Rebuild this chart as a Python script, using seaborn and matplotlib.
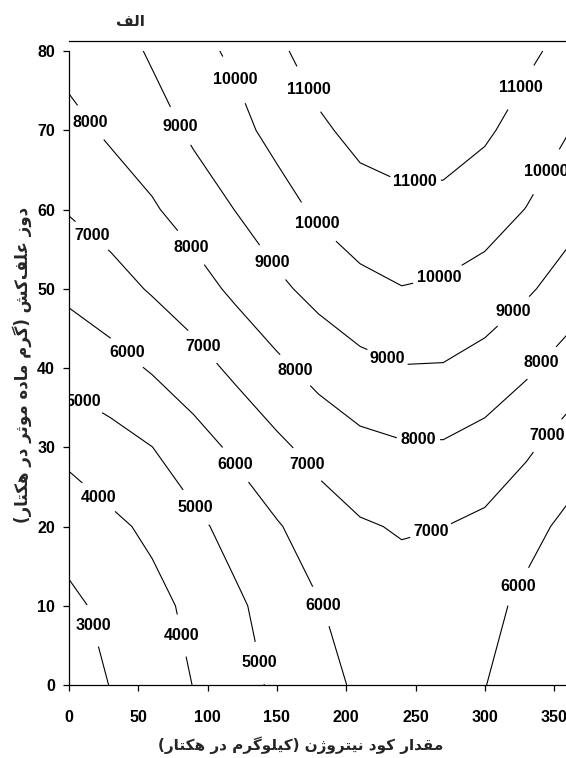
import numpy as np
import matplotlib
matplotlib.use("Agg")
import matplotlib.pyplot as plt
import seaborn as sns
from matplotlib import font_manager

# grid: nitrogen (kg/ha) x herbicide dose (g a.i./ha)
nitrogen = [0, 30, 60, 90, 120, 150, 180, 210, 240, 270, 300, 330, 360]
dose = [0, 10, 20, 30, 40, 50, 60, 70, 80]

yield_d0 = [2400, 3030, 3525, 4020, 4608, 5172, 5690, 6147, 6338, 6295, 6018, 5600, 5100]
yield_d10 = [2800, 3246, 3720, 4220, 4830, 5400, 5950, 6420, 6600, 6570, 6300, 5760, 5400]
yield_d20 = [3400, 3800, 4190, 4780, 5340, 5920, 6480, 6900, 7080, 7010, 6800, 6320, 5770]
yield_d30 = [4262, 4630, 4992, 5584, 6186, 6798, 7333, 7736, 7894, 7901, 7630, 7150, 6554]
yield_d40 = [5333, 5625, 6093, 6596, 7216, 7788, 8327, 8724, 8956, 8937, 8625, 8152, 7556]
yield_d50 = [6212, 6621, 7096, 7593, 8198, 8798, 9312, 9737, 9970, 9862, 9610, 9134, 8583]
yield_d60 = [7070, 7439, 7896, 8427, 9019, 9615, 10164, 10569, 10776, 10752, 10437, 9975, 9375]
yield_d70 = [7707, 8158, 8530, 9190, 9720, 10283, 10822, 11300, 11420, 11420, 11144, 10606, 10033]
yield_d80 = [8344, 8484, 9140, 9750, 10150, 10800, 11480, 11700, 11800, 11800, 11620, 11200, 10690]

levels = [3000, 4000, 5000, 6000, 7000, 8000, 9000, 10000, 11000]

title_text = "الف"
xlabel_text = "مقدار کود نیتروژن (کیلوگرم در هکتار)"
ylabel_text = "دوز علف\u200cکش (گرم ماده موثر در هکتار)"

# matplotlib does no arabic shaping, so use presentation forms in visual order
FORMS = {
    'ا': ('\uFE8D', '\uFE8E'),
    'د': ('\uFEA9', '\uFEAA'),
    'ر': ('\uFEAD', '\uFEAE'),
    'ز': ('\uFEAF', '\uFEB0'),
    'ژ': ('\uFB8A', '\uFB8B'),
    'و': ('\uFEED', '\uFEEE'),
    'ل': ('\uFEDD', '\uFEDE', '\uFEDF', '\uFEE0'),
    'ف': ('\uFED1', '\uFED2', '\uFED3', '\uFED4'),
    'م': ('\uFEE1', '\uFEE2', '\uFEE3', '\uFEE4'),
    'ق': ('\uFED5', '\uFED6', '\uFED7', '\uFED8'),
    'ک': ('\uFB8E', '\uFB8F', '\uFB90', '\uFB91'),
    'گ': ('\uFB92', '\uFB93', '\uFB94', '\uFB95'),
    'ن': ('\uFEE5', '\uFEE6', '\uFEE7', '\uFEE8'),
    'ی': ('\uFBFC', '\uFBFD', '\uFBFE', '\uFBFF'),
    'ت': ('\uFE95', '\uFE96', '\uFE97', '\uFE98'),
    'ث': ('\uFE99', '\uFE9A', '\uFE9B', '\uFE9C'),
    'ه': ('\uFEE9', '\uFEEA', '\uFEEB', '\uFEEC'),
    'ع': ('\uFEC9', '\uFECA', '\uFECB', '\uFECC'),
    'ش': ('\uFEB5', '\uFEB6', '\uFEB7', '\uFEB8'),
}


def shape(text):
    out = []
    for i, ch in enumerate(text):
        if ch not in FORMS:
            if ch != '\u200c':
                out.append(ch)
            continue
        f = FORMS[ch]
        prev = text[i - 1] if i > 0 else ''
        nxt = text[i + 1] if i + 1 < len(text) else ''
        jp = prev in FORMS and len(FORMS[prev]) == 4
        jn = len(f) == 4 and nxt in FORMS
        if jp and jn:
            out.append(f[3])
        elif jp:
            out.append(f[1])
        elif jn:
            out.append(f[2])
        else:
            out.append(f[0])
    vis = ''.join(reversed(out))
    return vis.translate(str.maketrans('()', ')('))


sns.set_theme(style="ticks")
installed = {f.name for f in font_manager.fontManager.ttflist}
num_font = 'Liberation Sans Narrow' if 'Liberation Sans Narrow' in installed else 'Liberation Sans'
num_size = 14 if num_font == 'Liberation Sans Narrow' else 11.5
plt.rcParams['font.family'] = [num_font, 'DejaVu Sans']
plt.rcParams['font.weight'] = 'bold'

fig = plt.figure(figsize=(5.66, 7.58), dpi=100)
ax = fig.add_axes([0.1219, 0.0963, 0.8816, 0.85])

X, Y = np.meshgrid(nitrogen, dose)
Z = np.array([yield_d0, yield_d10, yield_d20, yield_d30, yield_d40,
              yield_d50, yield_d60, yield_d70, yield_d80])

cs = ax.contour(X, Y, Z, levels=levels, colors='black', linewidths=0.8)

label_spots = [
    (20, 7.6), (24, 24.2), (83, 6.3), (12, 36.2), (93, 22.6), (138, 2.8),
    (41, 41.8), (121, 27.9), (184, 10.1), (322, 12.6),
    (15, 56.4), (95, 42.5), (173, 28.0), (262, 18.9), (345, 31.5),
    (15, 70.9), (86, 54.9), (163, 39.7), (252, 30.5), (342, 40.5),
    (80, 70.5), (145, 53.1), (228, 40.6), (322, 46.9),
    (118, 76.3), (177, 58.0), (268, 50.5), (348, 64.4),
    (173, 75.2), (250, 62.1), (328, 75.2),
]
labels = ax.clabel(cs, inline=True, fmt='%d', manual=label_spots,
                   fontsize=num_size, inline_spacing=4)
for t in labels:
    t.set_rotation(0)
    t.set_fontweight('bold')

ax.set_xlim(0, 360)
ax.set_ylim(0, 81.3)
ax.set_xticks([0, 50, 100, 150, 200, 250, 300, 350])
ax.set_yticks([0, 10, 20, 30, 40, 50, 60, 70, 80])
ax.spines['right'].set_visible(False)
ax.spines['left'].set_bounds(0, 80)
for s in ['left', 'bottom', 'top']:
    ax.spines[s].set_linewidth(0.9)
    ax.spines[s].set_color('black')
ax.tick_params(axis='x', direction='out', length=4.5, width=0.9, pad=13.5,
               labelsize=num_size, colors='black')
ax.tick_params(axis='y', direction='out', length=4.5, width=0.9, pad=5.5,
               labelsize=num_size, colors='black')
for t in ax.get_xticklabels() + ax.get_yticklabels():
    t.set_fontweight('bold')

fig.text(0.532, 0.0172, shape(xlabel_text), ha='center', va='center',
         fontsize=11, fontweight='bold', family=['DejaVu Sans'])
fig.text(0.039, 0.518, shape(ylabel_text), ha='center', va='center',
         rotation=90, fontsize=12, fontweight='bold', family=['DejaVu Sans'])
fig.text(0.23, 0.972, shape(title_text), ha='center', va='center',
         fontsize=11, fontweight='bold', family=['DejaVu Sans'])

fig.savefig("out.png", dpi=100)
